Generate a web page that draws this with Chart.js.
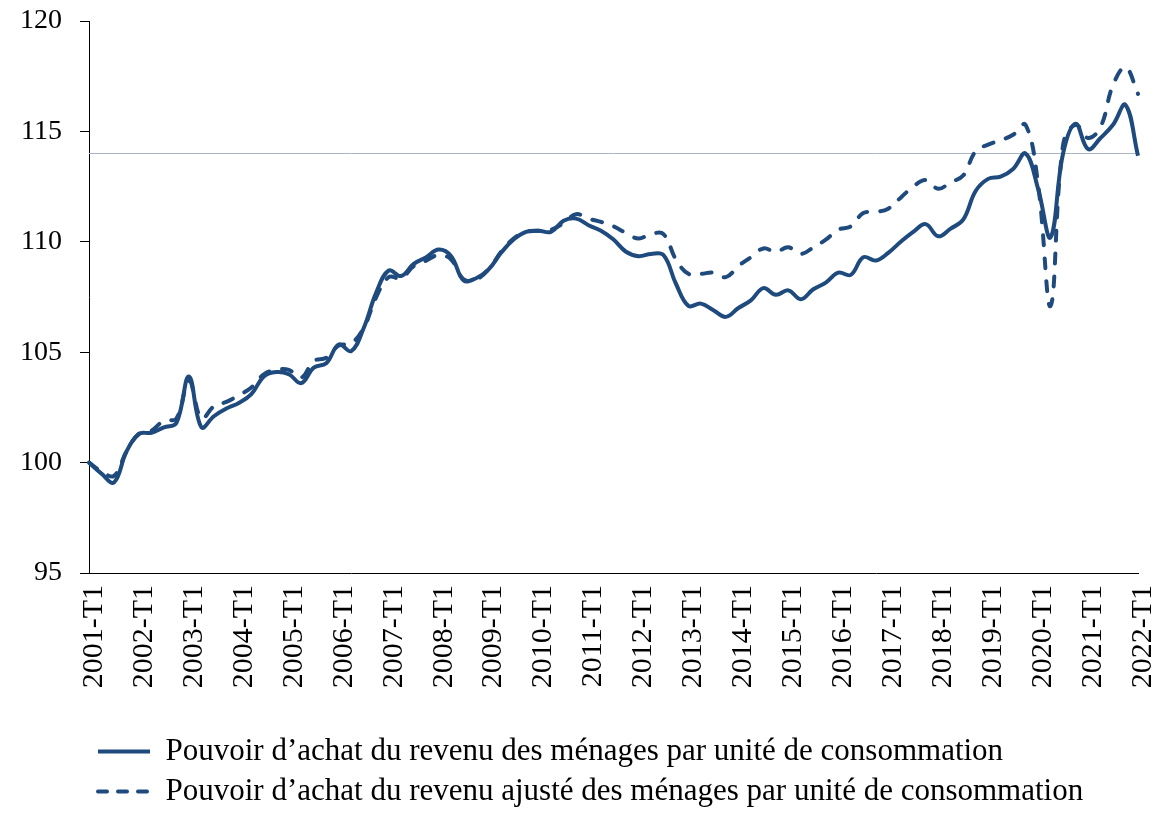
<!DOCTYPE html>
<html>
<head>
<meta charset="utf-8">
<script src="https://cdn.jsdelivr.net/npm/chart.js@4/dist/chart.umd.min.js"></script>
<style>
  body { margin: 0; background: #fff; }
  #wrap { width: 1170px; height: 827px; }
</style>
</head>
<body>
<div id="wrap"><canvas id="pouvoirChart"></canvas></div>
<script>
// quarters 2001-T1 .. 2022-T1
var years = [];
for (var y = 2001; y <= 2022; y++) years.push(y);
var quarters = [];
years.forEach(function(yr) {
  for (var q = 1; q <= 4; q++) {
    if (yr == 2022 && q > 1) break;
    quarters.push(yr + '-T' + q);
  }
});

var revenuUC = [
  100.0, 99.5, 99.1, 100.5,
  101.3, 101.35, 101.6, 101.8,
  103.9, 101.6, 102.1, 102.45,
  102.7, 103.1, 103.9, 104.1,
  104.0, 103.6, 104.3, 104.5,
  105.35, 105.05, 106.1, 107.7,
  108.7, 108.45, 109.0, 109.3,
  109.65, 109.35, 108.25, 108.35,
  108.75, 109.5, 110.1, 110.45,
  110.5, 110.45, 110.95, 111.05,
  110.75, 110.5, 110.1, 109.55,
  109.35, 109.45, 109.4, 108.1,
  107.1, 107.2, 106.9, 106.6,
  107.0, 107.35, 107.9, 107.6,
  107.8, 107.4, 107.85, 108.15,
  108.6, 108.5, 109.3, 109.15,
  109.5, 110.0, 110.45, 110.8,
  110.25, 110.6, 111.0, 112.3,
  112.85, 112.95, 113.3, 114.0,
  112.4, 110.2, 114.0, 115.35,
  114.2, 114.7, 115.3, 116.2,
  113.9
];

var revenuAjusteUC = [
  100.0, 99.6, 99.4, 100.5,
  101.3, 101.45, 101.9, 102.0,
  103.7, 102.0, 102.55, 102.75,
  103.05, 103.4, 104.0, 104.2,
  104.2, 103.85, 104.6, 104.75,
  105.3, 105.4, 106.1, 107.5,
  108.4, 108.35, 108.9, 109.15,
  109.4, 109.2, 108.3, 108.3,
  108.75, 109.55, 110.15, 110.45,
  110.5, 110.55, 110.85, 111.25,
  111.05, 110.9, 110.7, 110.4,
  110.15, 110.35, 110.35, 109.2,
  108.55, 108.55, 108.6, 108.4,
  108.9, 109.3, 109.7, 109.55,
  109.75, 109.45, 109.75, 110.1,
  110.55, 110.7, 111.3, 111.35,
  111.5, 112.0, 112.5, 112.8,
  112.4, 112.7, 113.0, 114.1,
  114.4, 114.6, 114.85, 115.3,
  112.6, 107.1, 114.4, 115.3,
  114.7, 115.2, 117.1, 117.9,
  116.7
];

var yTicks = [95, 100, 105, 110, 115, 120];
var refLevel = 114;

var blue = '#1f4a7e';
var serif = "'Liberation Serif', 'DejaVu Serif', serif";

// thin horizontal line at the 2022-T1 level
var refLine = {
  id: 'refLine',
  beforeDatasetsDraw: function(chart) {
    var ctx = chart.ctx, area = chart.chartArea;
    var yPix = chart.scales.y.getPixelForValue(refLevel);
    ctx.save();
    ctx.strokeStyle = '#a9b5c6';
    ctx.lineWidth = 1;
    ctx.beginPath();
    ctx.moveTo(area.left, Math.round(yPix) + 0.5);
    ctx.lineTo(area.right, Math.round(yPix) + 0.5);
    ctx.stroke();
    ctx.restore();
  }
};

new Chart("pouvoirChart", {
  type: "line",
  data: {
    labels: quarters,
    datasets: [{
      label: "Pouvoir d\u2019achat du revenu des ménages par unité de consommation",
      data: revenuUC,
      borderColor: blue,
      backgroundColor: blue,
      borderWidth: 4,
      borderJoinStyle: 'round',
      pointRadius: 0,
      tension: 0.4,
      fill: false
    }, {
      label: "Pouvoir d\u2019achat du revenu ajusté des ménages par unité de consommation",
      data: revenuAjusteUC,
      borderColor: blue,
      backgroundColor: blue,
      borderWidth: 4,
      borderDash: [10, 13],
      borderCapStyle: 'round',
      borderJoinStyle: 'round',
      pointRadius: 0,
      tension: 0.4,
      fill: false
    }]
  },
  options: {
    responsive: true,
    maintainAspectRatio: false,
    animation: false,
    layout: { padding: { left: 0, right: 32, top: 21, bottom: 10 } },
    plugins: {
      tooltip: { enabled: false },
      legend: {
        position: 'bottom',
        align: 'start',
        fullSize: false,
        labels: {
          usePointStyle: true,
          pointStyle: 'line',
          pointStyleWidth: 52,
          boxHeight: 4,
          padding: 9,
          color: '#000',
          font: { family: serif, size: 31 },
          generateLabels: function(chart) {
            var items = Chart.defaults.plugins.legend.labels.generateLabels(chart);
            items.forEach(function(it) {
              var ds = chart.data.datasets[it.datasetIndex];
              it.lineDash = ds.borderDash ? [9, 11] : [];
              it.lineWidth = 4;
              it.strokeStyle = blue;
              it.lineCap = ds.borderDash ? 'round' : 'butt';
            });
            return items;
          }
        }
      }
    },
    scales: {
      x: {
        grid: { display: false, drawTicks: false },
        border: { color: '#000', width: 1 },
        ticks: {
          autoSkip: false,
          minRotation: 90,
          maxRotation: 90,
          padding: 12,
          labelOffset: 5,
          color: '#000',
          font: { family: serif, size: 30 },
          callback: function(val, i) {
            return i % 4 == 0 ? quarters[i] : '';
          }
        },
        afterFit: function(scale) {
          scale.height = 154;
          scale.paddingLeft = 0;
          scale.paddingRight = 0;
        }
      },
      y: {
        min: 95,
        max: 120,
        grid: { drawOnChartArea: false, drawTicks: true, tickLength: 9, color: '#000' },
        border: { color: '#000', width: 1 },
        afterBuildTicks: function(scale) {
          scale.ticks = yTicks.map(function(v) { return { value: v }; });
        },
        ticks: {
          padding: 18,
          color: '#000',
          font: { family: serif, size: 28 }
        },
        afterFit: function(scale) {
          scale.width = 89;
          scale.paddingTop = 0;
          scale.paddingBottom = 0;
        }
      }
    }
  },
  plugins: [refLine]
});
</script>
</body>
</html>
